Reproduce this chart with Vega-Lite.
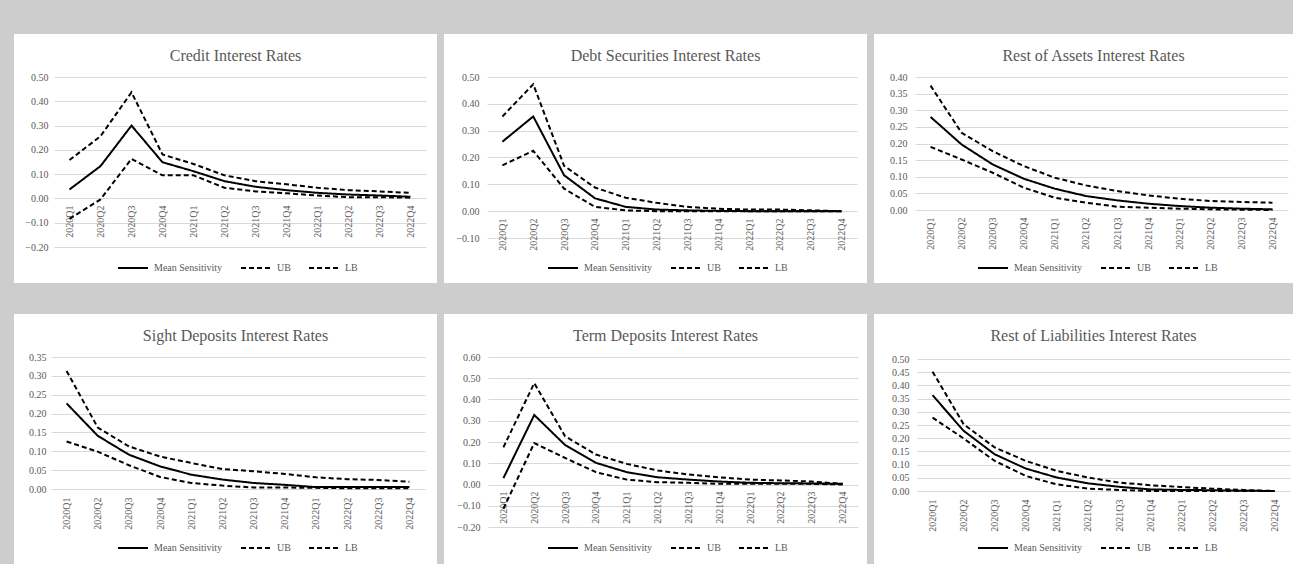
{
  "$schema": "https://vega.github.io/schema/vega-lite/v6.json",
  "background": "#cdcdcd",
  "padding": {"left": 14, "top": 34, "right": 0, "bottom": 0},
  "config": {
    "view": {"fill": "white", "stroke": null},
    "font": "Liberation Serif",
    "axis": {"labelFont": "Liberation Serif", "labelFontSize": 10, "labelColor": "#595959", "title": null, "domain": false, "ticks": false, "tickSize": 0, "gridColor": "#d9d9d9", "gridWidth": 1},
    "legend": {"labelFont": "Liberation Serif", "labelFontSize": 10, "labelColor": "#595959", "symbolType": "stroke", "symbolSize": 900, "symbolStrokeWidth": 2, "symbolStrokeColor": "black", "title": null, "orient": "none", "direction": "horizontal", "legendX": 103, "legendY": 218, "columnPadding": 14, "labelOffset": 5, "padding": 0},
    "title": {"font": "Liberation Serif", "fontSize": 16, "fontWeight": "normal", "color": "#595959", "frame": "group", "anchor": "middle", "offset": -30, "dx": 10}
  },
  "datasets": {
    "credit": [
      {"q": "2020Q1", "Mean Sensitivity": 0.037, "UB": 0.158, "LB": -0.084},
      {"q": "2020Q2", "Mean Sensitivity": 0.133, "UB": 0.256, "LB": -0.004},
      {"q": "2020Q3", "Mean Sensitivity": 0.300, "UB": 0.437, "LB": 0.163},
      {"q": "2020Q4", "Mean Sensitivity": 0.149, "UB": 0.181, "LB": 0.095},
      {"q": "2021Q1", "Mean Sensitivity": 0.112, "UB": 0.142, "LB": 0.095},
      {"q": "2021Q2", "Mean Sensitivity": 0.071, "UB": 0.095, "LB": 0.044},
      {"q": "2021Q3", "Mean Sensitivity": 0.048, "UB": 0.071, "LB": 0.029},
      {"q": "2021Q4", "Mean Sensitivity": 0.034, "UB": 0.058, "LB": 0.021},
      {"q": "2022Q1", "Mean Sensitivity": 0.023, "UB": 0.044, "LB": 0.012},
      {"q": "2022Q2", "Mean Sensitivity": 0.016, "UB": 0.034, "LB": 0.005},
      {"q": "2022Q3", "Mean Sensitivity": 0.012, "UB": 0.029, "LB": 0.005},
      {"q": "2022Q4", "Mean Sensitivity": 0.007, "UB": 0.023, "LB": 0.003}
    ],
    "debt": [
      {"q": "2020Q1", "Mean Sensitivity": 0.259, "UB": 0.353, "LB": 0.171},
      {"q": "2020Q2", "Mean Sensitivity": 0.353, "UB": 0.473, "LB": 0.225},
      {"q": "2020Q3", "Mean Sensitivity": 0.134, "UB": 0.169, "LB": 0.084},
      {"q": "2020Q4", "Mean Sensitivity": 0.048, "UB": 0.088, "LB": 0.016},
      {"q": "2021Q1", "Mean Sensitivity": 0.016, "UB": 0.050, "LB": 0.003},
      {"q": "2021Q2", "Mean Sensitivity": 0.006, "UB": 0.031, "LB": 0.000},
      {"q": "2021Q3", "Mean Sensitivity": 0.003, "UB": 0.016, "LB": 0.000},
      {"q": "2021Q4", "Mean Sensitivity": 0.001, "UB": 0.009, "LB": 0.000},
      {"q": "2022Q1", "Mean Sensitivity": 0.000, "UB": 0.006, "LB": 0.000},
      {"q": "2022Q2", "Mean Sensitivity": 0.000, "UB": 0.006, "LB": 0.000},
      {"q": "2022Q3", "Mean Sensitivity": 0.000, "UB": 0.003, "LB": 0.000},
      {"q": "2022Q4", "Mean Sensitivity": 0.000, "UB": 0.000, "LB": 0.000}
    ],
    "assets": [
      {"q": "2020Q1", "Mean Sensitivity": 0.280, "UB": 0.374, "LB": 0.190},
      {"q": "2020Q2", "Mean Sensitivity": 0.197, "UB": 0.232, "LB": 0.152},
      {"q": "2020Q3", "Mean Sensitivity": 0.137, "UB": 0.177, "LB": 0.112},
      {"q": "2020Q4", "Mean Sensitivity": 0.094, "UB": 0.132, "LB": 0.067},
      {"q": "2021Q1", "Mean Sensitivity": 0.064, "UB": 0.097, "LB": 0.037},
      {"q": "2021Q2", "Mean Sensitivity": 0.042, "UB": 0.074, "LB": 0.022},
      {"q": "2021Q3", "Mean Sensitivity": 0.029, "UB": 0.057, "LB": 0.010},
      {"q": "2021Q4", "Mean Sensitivity": 0.019, "UB": 0.044, "LB": 0.007},
      {"q": "2022Q1", "Mean Sensitivity": 0.012, "UB": 0.034, "LB": 0.004},
      {"q": "2022Q2", "Mean Sensitivity": 0.007, "UB": 0.027, "LB": 0.002},
      {"q": "2022Q3", "Mean Sensitivity": 0.004, "UB": 0.024, "LB": 0.001},
      {"q": "2022Q4", "Mean Sensitivity": 0.002, "UB": 0.022, "LB": 0.000}
    ],
    "sight": [
      {"q": "2020Q1", "Mean Sensitivity": 0.227, "UB": 0.313, "LB": 0.126},
      {"q": "2020Q2", "Mean Sensitivity": 0.141, "UB": 0.163, "LB": 0.099},
      {"q": "2020Q3", "Mean Sensitivity": 0.091, "UB": 0.113, "LB": 0.063},
      {"q": "2020Q4", "Mean Sensitivity": 0.060, "UB": 0.086, "LB": 0.032},
      {"q": "2021Q1", "Mean Sensitivity": 0.038, "UB": 0.069, "LB": 0.016},
      {"q": "2021Q2", "Mean Sensitivity": 0.025, "UB": 0.053, "LB": 0.009},
      {"q": "2021Q3", "Mean Sensitivity": 0.016, "UB": 0.047, "LB": 0.004},
      {"q": "2021Q4", "Mean Sensitivity": 0.011, "UB": 0.040, "LB": 0.004},
      {"q": "2022Q1", "Mean Sensitivity": 0.005, "UB": 0.031, "LB": 0.003},
      {"q": "2022Q2", "Mean Sensitivity": 0.005, "UB": 0.026, "LB": 0.002},
      {"q": "2022Q3", "Mean Sensitivity": 0.005, "UB": 0.024, "LB": 0.002},
      {"q": "2022Q4", "Mean Sensitivity": 0.005, "UB": 0.019, "LB": 0.002}
    ],
    "term": [
      {"q": "2020Q1", "Mean Sensitivity": 0.030, "UB": 0.175, "LB": -0.114},
      {"q": "2020Q2", "Mean Sensitivity": 0.327, "UB": 0.477, "LB": 0.195},
      {"q": "2020Q3", "Mean Sensitivity": 0.186, "UB": 0.227, "LB": 0.125},
      {"q": "2020Q4", "Mean Sensitivity": 0.102, "UB": 0.141, "LB": 0.058},
      {"q": "2021Q1", "Mean Sensitivity": 0.058, "UB": 0.097, "LB": 0.023},
      {"q": "2021Q2", "Mean Sensitivity": 0.034, "UB": 0.066, "LB": 0.011},
      {"q": "2021Q3", "Mean Sensitivity": 0.023, "UB": 0.047, "LB": 0.008},
      {"q": "2021Q4", "Mean Sensitivity": 0.014, "UB": 0.034, "LB": 0.003},
      {"q": "2022Q1", "Mean Sensitivity": 0.008, "UB": 0.023, "LB": 0.003},
      {"q": "2022Q2", "Mean Sensitivity": 0.006, "UB": 0.019, "LB": 0.003},
      {"q": "2022Q3", "Mean Sensitivity": 0.005, "UB": 0.014, "LB": 0.003},
      {"q": "2022Q4", "Mean Sensitivity": 0.003, "UB": 0.003, "LB": 0.000}
    ],
    "liab": [
      {"q": "2020Q1", "Mean Sensitivity": 0.363, "UB": 0.452, "LB": 0.278},
      {"q": "2020Q2", "Mean Sensitivity": 0.228, "UB": 0.253, "LB": 0.199},
      {"q": "2020Q3", "Mean Sensitivity": 0.139, "UB": 0.165, "LB": 0.114},
      {"q": "2020Q4", "Mean Sensitivity": 0.085, "UB": 0.114, "LB": 0.057},
      {"q": "2021Q1", "Mean Sensitivity": 0.051, "UB": 0.076, "LB": 0.025},
      {"q": "2021Q2", "Mean Sensitivity": 0.029, "UB": 0.051, "LB": 0.009},
      {"q": "2021Q3", "Mean Sensitivity": 0.016, "UB": 0.032, "LB": 0.004},
      {"q": "2021Q4", "Mean Sensitivity": 0.006, "UB": 0.022, "LB": 0.000},
      {"q": "2022Q1", "Mean Sensitivity": 0.004, "UB": 0.015, "LB": 0.000},
      {"q": "2022Q2", "Mean Sensitivity": 0.003, "UB": 0.009, "LB": 0.000},
      {"q": "2022Q3", "Mean Sensitivity": 0.001, "UB": 0.004, "LB": 0.000},
      {"q": "2022Q4", "Mean Sensitivity": 0.000, "UB": 0.000, "LB": 0.000}
    ]
  },
  "columns": 3,
  "spacing": {"row": 31, "column": 7},
  "bounds": "flush",
  "resolve": {"scale": {"x": "independent", "y": "independent", "strokeDash": "independent"}, "legend": {"strokeDash": "independent"}},
  "concat": [
    {
      "width": 423, "height": 249,
      "data": {"name": "credit"},
      "transform": [{"fold": ["Mean Sensitivity", "UB", "LB"], "as": ["series", "value"]}],
      "title": {"text": "Credit Interest Rates"},
      "mark": {"type": "line", "strokeWidth": 2},
      "encoding": {
        "x": {"field": "q", "type": "ordinal", "sort": null, "scale": {"type": "point", "padding": 0.5, "range": [40, 412]}, "axis": {"labelAngle": 270, "offset": -86, "labelPadding": 8, "grid": false}},
        "y": {"field": "value", "type": "quantitative", "scale": {"domain": [-0.2, 0.5], "range": [213, 43], "nice": false, "zero": false}, "axis": {"values": [-0.2, -0.1, 0, 0.1, 0.2, 0.3, 0.4, 0.5], "format": ".2f", "offset": -40, "labelPadding": 6}},
        "strokeDash": {"field": "series", "type": "nominal", "scale": {"domain": ["Mean Sensitivity", "UB", "LB"], "range": [[1, 0], [5, 3], [5, 3]]}},
        "color": {"value": "black"}
      }
    },
    {
      "width": 423, "height": 249,
      "data": {"name": "debt"},
      "transform": [{"fold": ["Mean Sensitivity", "UB", "LB"], "as": ["series", "value"]}],
      "title": {"text": "Debt Securities Interest Rates"},
      "mark": {"type": "line", "strokeWidth": 2},
      "encoding": {
        "x": {"field": "q", "type": "ordinal", "sort": null, "scale": {"type": "point", "padding": 0.5, "range": [43, 413]}, "axis": {"labelAngle": 270, "offset": -73, "labelPadding": 8, "grid": false}},
        "y": {"field": "value", "type": "quantitative", "scale": {"domain": [-0.1, 0.5], "range": [204, 43], "nice": false, "zero": false}, "axis": {"values": [-0.1, 0, 0.1, 0.2, 0.3, 0.4, 0.5], "format": ".2f", "offset": -43, "labelPadding": 8}},
        "strokeDash": {"field": "series", "type": "nominal", "scale": {"domain": ["Mean Sensitivity", "UB", "LB"], "range": [[1, 0], [5, 3], [5, 3]]}},
        "color": {"value": "black"}
      }
    },
    {
      "width": 419, "height": 249,
      "data": {"name": "assets"},
      "transform": [{"fold": ["Mean Sensitivity", "UB", "LB"], "as": ["series", "value"]}],
      "title": {"text": "Rest of Assets Interest Rates"},
      "mark": {"type": "line", "strokeWidth": 2},
      "encoding": {
        "x": {"field": "q", "type": "ordinal", "sort": null, "scale": {"type": "point", "padding": 0.5, "range": [41, 414]}, "axis": {"labelAngle": 270, "offset": -74, "labelPadding": 8, "grid": false}},
        "y": {"field": "value", "type": "quantitative", "scale": {"domain": [0, 0.4], "range": [176, 43], "nice": false, "zero": false}, "axis": {"values": [0, 0.05, 0.1, 0.15, 0.2, 0.25, 0.3, 0.35, 0.4], "format": ".2f", "offset": -41, "labelPadding": 8}},
        "strokeDash": {"field": "series", "type": "nominal", "scale": {"domain": ["Mean Sensitivity", "UB", "LB"], "range": [[1, 0], [5, 3], [5, 3]]}},
        "color": {"value": "black"}
      }
    },
    {
      "width": 423, "height": 250,
      "data": {"name": "sight"},
      "transform": [{"fold": ["Mean Sensitivity", "UB", "LB"], "as": ["series", "value"]}],
      "title": {"text": "Sight Deposits Interest Rates"},
      "mark": {"type": "line", "strokeWidth": 2},
      "encoding": {
        "x": {"field": "q", "type": "ordinal", "sort": null, "scale": {"type": "point", "padding": 0.5, "range": [37, 411]}, "axis": {"labelAngle": 270, "offset": -75, "labelPadding": 8, "grid": false}},
        "y": {"field": "value", "type": "quantitative", "scale": {"domain": [0, 0.35], "range": [175, 43], "nice": false, "zero": false}, "axis": {"values": [0, 0.05, 0.1, 0.15, 0.2, 0.25, 0.3, 0.35], "format": ".2f", "offset": -37, "labelPadding": 5}},
        "strokeDash": {"field": "series", "type": "nominal", "scale": {"domain": ["Mean Sensitivity", "UB", "LB"], "range": [[1, 0], [5, 3], [5, 3]]}},
        "color": {"value": "black"}
      }
    },
    {
      "width": 423, "height": 250,
      "data": {"name": "term"},
      "transform": [{"fold": ["Mean Sensitivity", "UB", "LB"], "as": ["series", "value"]}],
      "title": {"text": "Term Deposits Interest Rates"},
      "mark": {"type": "line", "strokeWidth": 2},
      "encoding": {
        "x": {"field": "q", "type": "ordinal", "sort": null, "scale": {"type": "point", "padding": 0.5, "range": [44, 414]}, "axis": {"labelAngle": 270, "offset": -80, "labelPadding": 7, "grid": false}},
        "y": {"field": "value", "type": "quantitative", "scale": {"domain": [-0.2, 0.6], "range": [213, 43], "nice": false, "zero": false}, "axis": {"values": [-0.2, -0.1, 0, 0.1, 0.2, 0.3, 0.4, 0.5, 0.6], "format": ".2f", "offset": -44, "labelPadding": 8}},
        "strokeDash": {"field": "series", "type": "nominal", "scale": {"domain": ["Mean Sensitivity", "UB", "LB"], "range": [[1, 0], [5, 3], [5, 3]]}},
        "color": {"value": "black"}
      }
    },
    {
      "width": 419, "height": 250,
      "data": {"name": "liab"},
      "transform": [{"fold": ["Mean Sensitivity", "UB", "LB"], "as": ["series", "value"]}],
      "title": {"text": "Rest of Liabilities Interest Rates"},
      "mark": {"type": "line", "strokeWidth": 2},
      "encoding": {
        "x": {"field": "q", "type": "ordinal", "sort": null, "scale": {"type": "point", "padding": 0.5, "range": [43, 416]}, "axis": {"labelAngle": 270, "offset": -73, "labelPadding": 8, "grid": false}},
        "y": {"field": "value", "type": "quantitative", "scale": {"domain": [0, 0.5], "range": [177, 45], "nice": false, "zero": false}, "axis": {"values": [0, 0.05, 0.1, 0.15, 0.2, 0.25, 0.3, 0.35, 0.4, 0.45, 0.5], "format": ".2f", "offset": -43, "labelPadding": 8}},
        "strokeDash": {"field": "series", "type": "nominal", "scale": {"domain": ["Mean Sensitivity", "UB", "LB"], "range": [[1, 0], [5, 3], [5, 3]]}},
        "color": {"value": "black"}
      }
    }
  ]
}
